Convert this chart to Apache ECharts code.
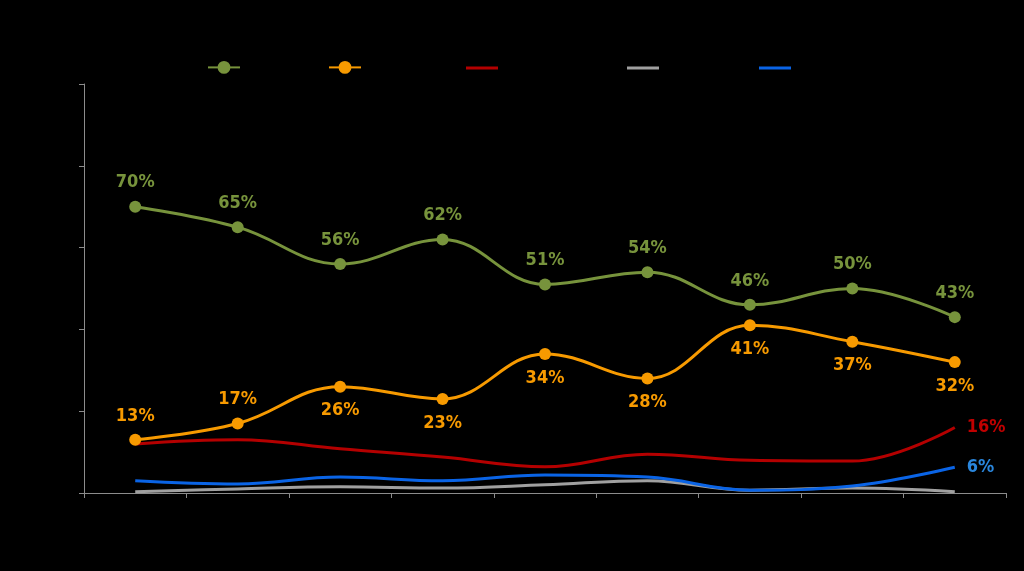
<!DOCTYPE html>
<html>
<head>
<meta charset="utf-8">
<style>html,body{margin:0;padding:0;background:#000;}#c{width:1024px;height:571px;}</style>
<script src="https://cdn.jsdelivr.net/npm/echarts@6/dist/echarts.min.js"></script>
</head>
<body>
<div id="c"></div>
<script>
const categories = ['1', '2', '3', '4', '5', '6', '7', '8', '9'];
const seriesNames = ['Series A', 'Series B', 'Series C', 'Series D', 'Series E'];
const greenValues = [70, 65, 56, 62, 51, 54, 46, 50, 43];
const orangeValues = [13, 17, 26, 23, 34, 28, 41, 37, 32];
const redValues = [12, 13, 10.8, 8.8, 6.4, 9.5, 8, 7.8, 16];
const grayValues = [0.3, 1, 1.5, 1.2, 2, 3, 0.7, 1.2, 0.3];
const blueValues = [3, 2.2, 3.9, 3, 4.4, 3.9, 0.7, 1.7, 6.3];
const redLastLabel = 16;
const blueLastLabel = 6;
const orangeLabelBelow = [false, false, true, true, true, true, true, true, true];
const yTicks = [0, 20, 40, 60, 80, 100];

const colors = ['#77933C', '#F79A00', '#B40000', '#A0A0A0', '#0A64E6'];
const labelFont = {fontFamily: '"Liberation Sans Narrow", "DejaVu Sans Condensed", sans-serif', fontWeight: 'bold', fontSize: 18};

const chart = echarts.init(document.getElementById('c'));
const legendLefts = [202, 323, 461, 622, 754];
const legends = seriesNames.map((n, i) => {
  const plain = i >= 2;
  return {
    data: [plain ? {name: n, icon: 'rect'} : n],
    left: legendLefts[i], top: plain ? 57 : 56, itemWidth: 32, itemHeight: plain ? 3 : 16,
    textStyle: {color: '#000', fontSize: 12}, selectedMode: false
  };
});

chart.setOption({
  backgroundColor: '#000',
  animation: false,
  legend: legends,
  grid: {left: 84, right: 18, top: 84, bottom: 78},
  xAxis: {
    type: 'category', data: categories, boundaryGap: true,
    axisLine: {lineStyle: {color: '#8c8c8c', width: 1}},
    axisTick: {show: true, length: 5, lineStyle: {color: '#8c8c8c'}},
    axisLabel: {color: '#000'}
  },
  yAxis: {
    type: 'value', min: yTicks[0], max: yTicks[yTicks.length - 1], interval: 20,
    axisLine: {show: true, lineStyle: {color: '#8c8c8c', width: 1}},
    axisTick: {show: true, length: 5, lineStyle: {color: '#8c8c8c'}},
    splitLine: {show: false},
    axisLabel: {color: '#000'}
  },
  series: [
    {
      name: seriesNames[0], type: 'line', smooth: 0.4, data: greenValues,
      symbol: 'circle', symbolSize: 12, color: colors[0],
      lineStyle: {width: 3, color: colors[0]},
      label: Object.assign({show: true, position: 'top', distance: 9, color: colors[0],
        formatter: p => p.value + '%'}, labelFont)
    },
    {
      name: seriesNames[1], type: 'line', smooth: 0.4, color: colors[1],
      data: orangeValues.map((v, i) => ({
        value: v,
        label: {position: orangeLabelBelow[i] ? 'bottom' : 'top'}
      })),
      symbol: 'circle', symbolSize: 12,
      lineStyle: {width: 3, color: colors[1]},
      label: Object.assign({show: true, distance: 9, color: colors[1],
        formatter: p => p.value + '%'}, labelFont)
    },
    {
      name: seriesNames[2], type: 'line', smooth: 0.4, color: colors[2],
      data: redValues, symbol: 'none',
      lineStyle: {width: 3, color: colors[2]},
      endLabel: Object.assign({show: true, distance: 12, color: '#C00000',
        formatter: () => redLastLabel + '%'}, labelFont)
    },
    {
      name: seriesNames[3], type: 'line', smooth: 0.4, color: colors[3],
      data: grayValues, symbol: 'none',
      lineStyle: {width: 3, color: colors[3]}
    },
    {
      name: seriesNames[4], type: 'line', smooth: 0.4, color: colors[4],
      data: blueValues, symbol: 'none',
      lineStyle: {width: 3, color: colors[4]},
      endLabel: Object.assign({show: true, distance: 12, color: '#2A86DC',
        formatter: () => blueLastLabel + '%'}, labelFont)
    }
  ]
});
</script>
</body>
</html>
